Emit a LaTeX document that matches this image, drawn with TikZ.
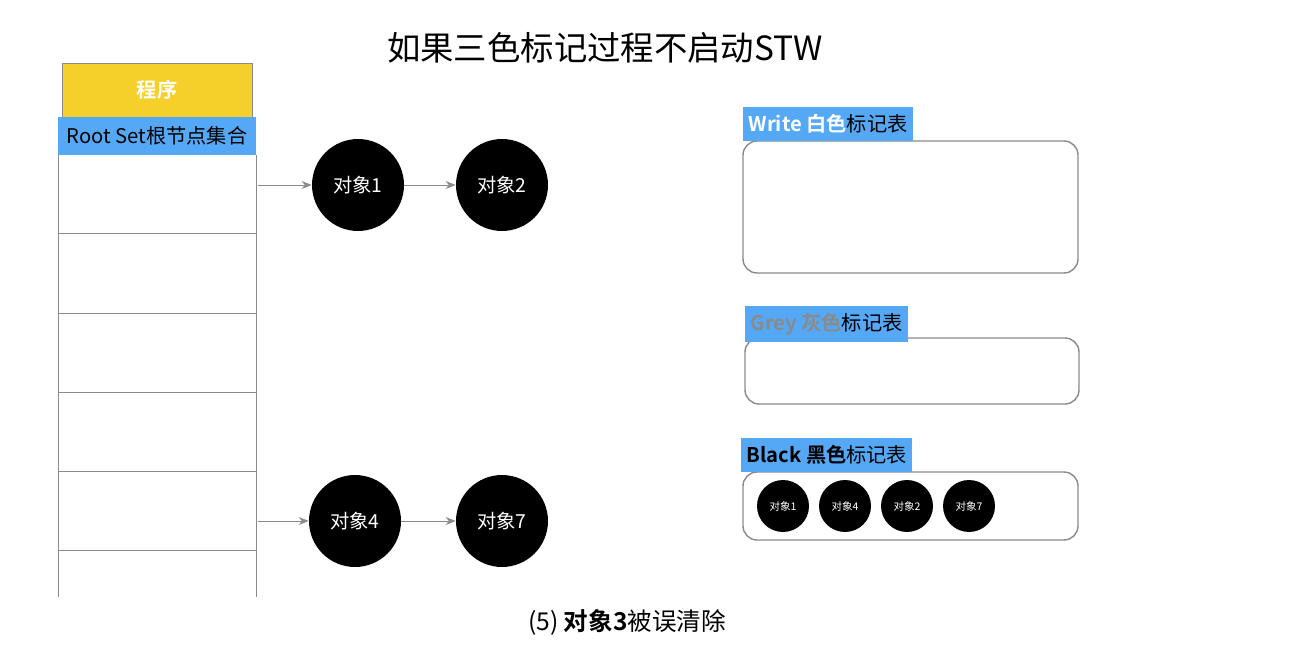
\documentclass[tikz,border=0pt]{standalone}
\usepackage{fontspec}
\setmainfont{Noto Sans CJK SC}[BoldFont={Noto Sans CJK SC Bold}]
\usetikzlibrary{arrows.meta, positioning}
\definecolor{progyellow}{HTML}{F5D02A}
\definecolor{setblue}{HTML}{55A8F5}
\definecolor{linegray}{HTML}{8A8A8A}
\begin{document}
\begin{tikzpicture}[
  x=0.02cm, y=-0.02cm,
  obj/.style={circle, fill=black, minimum size=1.84cm, inner sep=0pt, text=white, font=\fontsize{11}{12}\selectfont},
  smallobj/.style={circle, fill=black, minimum size=1.04cm, inner sep=0pt, text=white, font=\fontsize{6}{6}\selectfont},
  tag/.style={fill=setblue, anchor=south west, inner xsep=3pt, inner ysep=4pt, font=\fontsize{11.5}{12}\selectfont},
  table/.style={draw=linegray, rounded corners=8pt, thick},
  link/.style={-{Stealth[length=2mm, width=1.6mm]}, draw=linegray}
]
\useasboundingbox (0,0) rectangle (1293,658);

% Title and caption
\node[font=\fontsize{19}{22}\selectfont] (title) at (605,48) {如果三色标记过程不启动STW};
\node[font=\fontsize{14}{16}\selectfont] (caption) at (627,622) {(5) \textbf{对象3}被误清除};

% Root set stack
\node[draw=linegray, fill=progyellow, minimum width=3.8cm, minimum height=1.08cm, inner sep=0pt,
  text=white, font=\bfseries\fontsize{11.5}{12}\selectfont] (prog) at (157,90) {程序};
\node[fill=setblue, minimum width=3.96cm, minimum height=0.76cm, inner sep=0pt,
  font=\fontsize{11.5}{12}\selectfont] (rootset) at (157,136) {Root Set根节点集合};
\draw[linegray] (58,155) -- (58,597) (256,155) -- (256,597);
\foreach \y in {233,313,392,471,550}
  \draw[linegray] (58,\y) -- (256,\y);
\coordinate (slot1) at (258,185);
\coordinate (slot4) at (258,521);

% Objects
\node[obj] (o1) at (358,185) {对象1};
\node[obj] (o2) at (502,185) {对象2};
\node[obj] (o4) at (355,521) {对象4};
\node[obj] (o7) at (502,521) {对象7};
\draw[link] (slot1) -- (o1);
\draw[link] (o1) -- (o2);
\draw[link] (slot4) -- (o4);
\draw[link] (o4) -- (o7);

% Mark tables
\draw[table] (743,141) rectangle (1078,273);
\node[tag] (white) at (743,141) {\textbf{\color{white}Write 白色}标记表};
\draw[table] (745,338) rectangle (1079,404);
\node[tag] (grey) at (745,342) {\textbf{\color{linegray}Grey 灰色}标记表};
\draw[table] (743,472) rectangle (1078,540);
\node[tag] (black) at (741,472) {\textbf{Black 黑色}标记表};
\node[smallobj] (b1) at (783,506) {对象1};
\node[smallobj] (b4) at (845,506) {对象4};
\node[smallobj] (b2) at (907,506) {对象2};
\node[smallobj] (b7) at (969,506) {对象7};
\end{tikzpicture}
\end{document}
